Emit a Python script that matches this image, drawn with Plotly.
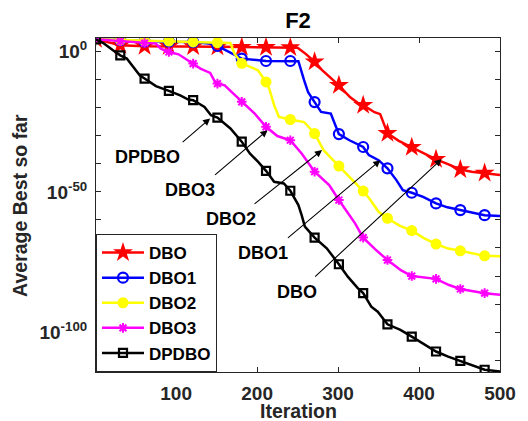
import numpy as np
import plotly.graph_objects as go

# ---- data (iteration, log10 of best-so-far) ----
dbo_it = [1, 31, 61, 91, 121, 151, 181, 211, 241, 250, 260, 271, 280, 301, 315, 325, 331, 345, 352,
          361, 375, 391, 405, 421, 435, 451, 465, 481, 500]
dbo_lg = [4.4, 2.3, 1.9, 1.9, 1.8, 1.7, 1.6, 1.55, 1.45, 1.4, -0.8, -3.6, -6.5, -12.0, -16.3, -18.4, -19.1,
          -21.6, -22.3, -29.1, -31.8, -34.1, -36.2, -38.4, -40.0, -42.0, -42.8, -43.3, -44.0]

dbo1_it = [1, 31, 61, 91, 121, 143, 151, 166, 181, 211, 241, 251, 258, 263, 271, 279, 291, 295, 301, 314,
           331, 338, 350, 361, 372, 380, 391, 405, 421, 435, 451, 465, 481, 500]
dbo1_lg = [4.4, 4.1, 3.55, 3.5, 3.4, 2.8, 2.0, -0.14, -2.5, -3.35, -3.35, -3.4, -10.2, -14.5, -18.0, -21.5,
           -22.1, -25.1, -29.4, -31.6, -34.0, -36.9, -38.7, -41.6, -45.8, -49.4, -50.3, -51.8, -54.1, -55.5,
           -56.5, -57.5, -58.3, -58.6]

dbo2_it = [1, 31, 61, 91, 121, 151, 167, 172, 181, 187, 201, 211, 215, 221, 227, 241, 258, 271, 282, 290,
           301, 320, 331, 340, 350, 361, 376, 391, 406, 421, 436, 451, 466, 481, 500]
dbo2_lg = [4.4, 4.1, 3.8, 3.75, 3.45, 3.2, 3.05, -0.7, -4.16, -4.9, -6.65, -10.8, -13.2, -19.1, -23.3, -24.2,
           -25.1, -29.2, -35.1, -37.5, -40.8, -46.4, -49.7, -52.9, -57.1, -59.4, -62.0, -63.8, -66.5, -68.6,
           -70.2, -71.0, -72.0, -72.8, -72.9]

dbo3_it = [1, 31, 61, 75, 81, 91, 103, 115, 121, 130, 142, 148, 151, 160, 170, 181, 197, 211, 225, 241, 255,
           271, 289, 301, 313, 321, 331, 346, 361, 378, 391, 421, 437, 451, 481, 500]
dbo3_lg = [4.4, 3.67, 3.06, 2.85, 1.07, -0.14, -0.96, -3.1, -4.27, -6.05, -7.6, -10.8, -11.4, -12.0, -14.8,
           -17.9, -22.1, -26.8, -30.1, -31.6, -36.3, -42.8, -47.6, -52.9, -57.7, -61.2, -66.3, -70.5, -74.3,
           -78.0, -80.0, -81.0, -83.2, -84.6, -86.1, -86.7]

dpdbo_it = [1, 10, 22, 31, 39, 47, 55, 61, 75, 91, 105, 115, 121, 135, 143, 151, 167, 181, 191, 201, 211, 221,
            233, 241, 251, 255, 259, 271, 286, 301, 312, 324, 331, 341, 349, 361, 377, 391, 406, 421, 436, 451,
            466, 481, 500]
dpdbo_lg = [4.4, 3.06, 0.46, -1.32, -2.49, -5.48, -8.43, -9.6, -12.3, -14.0, -15.6, -17.1, -17.3, -19.7, -22.7,
            -23.5, -27.4, -32.1, -36.3, -39.2, -42.5, -46.4, -47.0, -49.6, -54.7, -58.3, -62.4, -66.3, -70.1,
            -75.8, -80.2, -84.2, -86.1, -90.9, -92.7, -97.2, -99.2, -101.6, -104.3, -106.9, -108.7, -110.2,
            -111.8, -113.4, -114.0]

names = ["DBO", "DBO1", "DBO2", "DBO3", "DPDBO"]
x_ticks = [100, 200, 300, 400, 500]
y_tick_exp = [0, -50, -100]

# ---- styles ----
series = [
    (dbo_it, dbo_lg, dict(color="#FF0000", symbol="star", size=15, line=dict(width=0))),
    (dbo1_it, dbo1_lg, dict(color="#0000FF", symbol="circle-open", size=10, line=dict(color="#0000FF", width=2.2))),
    (dbo2_it, dbo2_lg, dict(color="#FFFF00", symbol="circle", size=11, line=dict(width=0))),
    (dbo3_it, dbo3_lg, dict(color="#FF00FF", symbol="asterisk-open", size=8, line=dict(color="#FF00FF", width=2))),
    (dpdbo_it, dpdbo_lg, dict(color="#000000", symbol="square-open", size=8, line=dict(color="#000000", width=2.2))),
]
line_colors = ["#FF0000", "#0000FF", "#FFFF00", "#FF00FF", "#000000"]

fig = go.Figure()
for (it, lg, mk), name, lc in zip(series, names, line_colors):
    it = np.array(it)
    val = 10.0 ** np.array(lg)
    fig.add_trace(go.Scatter(x=it, y=val, mode="lines", line=dict(color=lc, width=2.5),
                             showlegend=False, hoverinfo="skip"))
    m = (it % 30) == 1
    fig.add_trace(go.Scatter(x=it[m], y=val[m], mode="markers", marker=mk,
                             showlegend=False, hoverinfo="skip"))
for (it, lg, mk), name, lc in zip(series, names, line_colors):
    fig.add_trace(go.Scatter(x=[None], y=[None], mode="lines+markers", name=name,
                             line=dict(color=lc, width=2.5), marker=mk))

FONT = "Liberation Sans, Arial, sans-serif"
TXT = "#262626"

fig.update_layout(
    width=528, height=421,
    margin=dict(l=96, r=18, t=38, b=49),
    paper_bgcolor="white", plot_bgcolor="white",
    font=dict(family=FONT, color=TXT),
    title=dict(text="F2", x=0.5, xref="paper", xanchor="center", y=1 - 20.7 / 421, yanchor="middle",
               font=dict(family=FONT, size=22, weight="bold", color="#000000")),
    showlegend=True,
    legend=dict(x=0, y=0, xanchor="left", yanchor="bottom", bgcolor="white",
                bordercolor="#262626", borderwidth=1, itemwidth=42,
                font=dict(family=FONT, size=17, weight="bold", color="#000000"),
                tracegroupgap=0),
)
fig.update_xaxes(range=[1, 500], tickmode="array", tickvals=x_ticks,
                 ticktext=[str(v) for v in x_ticks], ticks="inside", ticklen=5,
                 tickcolor=TXT, showline=True, linecolor=TXT, linewidth=1, mirror="ticks",
                 showgrid=False, zeroline=False, ticklabelstandoff=4,
                 tickfont=dict(family=FONT, size=19, weight="bold", color=TXT))
ytv = [10.0 ** e for e in range(-110, 1, 10)]
ytt = [("10<sup>%d</sup>" % e) if e in y_tick_exp else "" for e in range(-110, 1, 10)]
fig.update_yaxes(type="log", range=[-114.2, 4.85], tickmode="array", tickvals=ytv, ticktext=ytt,
                 ticks="inside", ticklen=5, tickcolor=TXT, showline=True, linecolor=TXT, linewidth=1,
                 mirror="ticks", showgrid=False, zeroline=False, ticklabelstandoff=4,
                 tickfont=dict(family=FONT, size=19, weight="bold", color=TXT))

# axis titles
fig.add_annotation(text="Iteration", xref="paper", yref="paper", x=0.5, y=(372 - 411) / 334,
                   xanchor="center", yanchor="middle", showarrow=False,
                   font=dict(family=FONT, size=19.5, weight="bold", color=TXT))
fig.add_annotation(text="Average Best so far", xref="paper", yref="paper", x=(18 - 96) / 414, y=0.5,
                   xanchor="center", yanchor="middle", textangle=-90, showarrow=False,
                   font=dict(family=FONT, size=19.5, weight="bold", color=TXT))

# arrow annotations: (label, head iter, head log10, tail dx, tail dy, text iter, text log10)
arrows = [
    ("DPDBO", 142, -23.8, -29, 25, 65.2, -37.6),
    ("DBO3", 212.9, -28.0, -54, 46, 116.8, -49.4),
    ("DBO2", 280.2, -35.1, -69, 55, 167.3, -59.7),
    ("DBO1", 352.3, -38.7, -94, 79, 206.9, -71.8),
    ("DBO", 427.9, -38.3, -128, 119, 249, -85.7),
]
for lab, hx, hy, dx, dy, tx, ty in arrows:
    fig.add_annotation(x=hx, y=hy, xref="x", yref="y", text="", showarrow=True, ax=dx, ay=dy,
                       arrowhead=2, arrowsize=1.3, arrowwidth=1.1, arrowcolor="#000000", standoff=0)
    fig.add_annotation(x=tx, y=ty, xref="x", yref="y", text=lab, showarrow=False,
                       xanchor="center", yanchor="middle",
                       font=dict(family=FONT, size=18, weight="bold", color="#000000"))

fig.write_html("out.html")
